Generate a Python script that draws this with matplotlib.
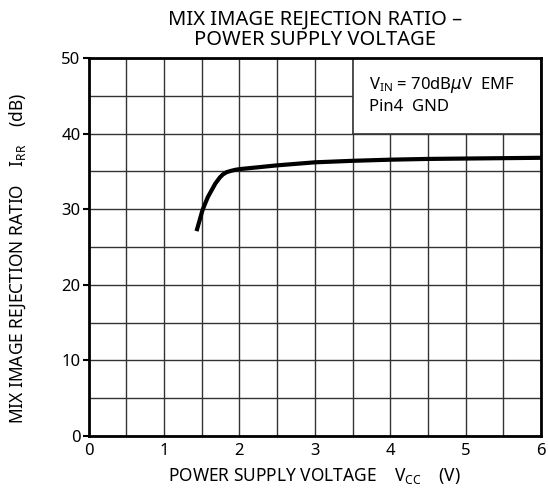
import matplotlib.pyplot as plt
from matplotlib.patches import Rectangle

plt.rcParams['font.family'] = ['Noto Sans', 'DejaVu Sans']
plt.rcParams['mathtext.fontset'] = 'dejavusans'
plt.rcParams['mathtext.default'] = 'regular'

# curve
vcc = [1.43, 1.51, 1.58, 1.63, 1.68, 1.74, 1.78, 1.83, 1.88, 1.94, 2.0, 2.5, 3.0, 3.5, 4.0, 4.5, 5.0, 5.5, 6.0]
irr = [27.1, 29.9, 31.6, 32.5, 33.4, 34.2, 34.6, 34.9, 35.05, 35.2, 35.3, 35.8, 36.2, 36.4, 36.55, 36.65, 36.7, 36.75, 36.8]

xticks = [0, 1, 2, 3, 4, 5, 6]
yticks = [0, 10, 20, 30, 40, 50]

fig = plt.figure(figsize=(5.48, 5.0), dpi=100)
ax = fig.add_axes([0.162, 0.128, 0.825, 0.756])

ax.set_xlim(0, 6)
ax.set_ylim(0, 50)
ax.set_xticks(xticks)
ax.set_yticks(yticks)
ax.set_xticks([i * 0.5 for i in range(13)], minor=True)
ax.set_yticks([i * 5 for i in range(11)], minor=True)
ax.grid(True, which='both', color='#333333', linewidth=1.0)
ax.tick_params(axis='x', which='both', length=0, labelsize=12, pad=5)
ax.tick_params(axis='y', which='major', length=4, width=1.5, labelsize=12, pad=2)
ax.tick_params(axis='y', which='minor', length=0)
for s in ax.spines.values():
    s.set_linewidth(2)
    s.set_zorder(5)

ax.plot(vcc, irr, color='black', linewidth=3, solid_capstyle='butt',
        solid_joinstyle='round', zorder=4)

# legend box in the upper right cell block
ax.add_patch(Rectangle((3.5, 40), 2.5, 10, facecolor='white', edgecolor='#333333',
                       linewidth=1.2, zorder=3))
ax.text(3.72, 46.4, r'V$_{IN}$ = 70dB$\mathit{\mu}$V  EMF', fontsize=12,
        va='center', zorder=6)
ax.text(3.72, 43.5, 'Pin4  GND', fontsize=12, va='center', zorder=6)

fig.text(0.575, 0.94, 'MIX IMAGE REJECTION RATIO –\nPOWER SUPPLY VOLTAGE',
         ha='center', va='center', fontsize=14.5, linespacing=1.0)
ax.set_xlabel(r'POWER SUPPLY VOLTAGE    V$_{CC}$    (V)', fontsize=12.5, labelpad=5)
ax.set_ylabel(r'MIX IMAGE REJECTION RATIO    I$_{RR}$    (dB)', fontsize=12.5)
ax.yaxis.set_label_coords(-0.135, 0.47)

fig.savefig('out.png', dpi=100)
